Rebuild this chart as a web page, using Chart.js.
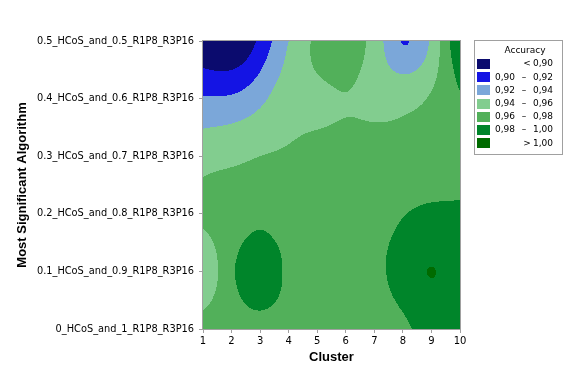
<!DOCTYPE html>
<html>
<head>
<meta charset="utf-8">
<script src="https://cdn.jsdelivr.net/npm/chart.js@4.4.1/dist/chart.umd.min.js"></script>
<style>
  body { margin: 0; background: #fff; }
  canvas { display: block; }
</style>
</head>
<body>
<canvas id="chart" width="576" height="384"></canvas>
<script>
// cluster numbers on the x axis
const clusters = [1, 2, 3, 4, 5, 6, 7, 8, 9, 10];

// algorithm mixes on the y axis, bottom to top
const algorithms = [
  '0_HCoS_and_1_R1P8_R3P16',
  '0.1_HCoS_and_0.9_R1P8_R3P16',
  '0.2_HCoS_and_0.8_R1P8_R3P16',
  '0.3_HCoS_and_0.7_R1P8_R3P16',
  '0.4_HCoS_and_0.6_R1P8_R3P16',
  '0.5_HCoS_and_0.5_R1P8_R3P16'
];

// accuracy per cluster, one array per algorithm row
const acc00 = [0.968, 0.972, 0.975, 0.972, 0.968, 0.968, 0.968, 0.975, 0.990, 0.990];
const acc01 = [0.942, 0.977, 0.992, 0.976, 0.968, 0.968, 0.974, 0.990, 1.0005, 0.992];
const acc02 = [0.965, 0.968, 0.976, 0.969, 0.968, 0.968, 0.970, 0.979, 0.984, 0.984];
const acc03 = [0.953, 0.956, 0.960, 0.962, 0.965, 0.966, 0.966, 0.966, 0.968, 0.970];
const acc04 = [0.922, 0.923, 0.935, 0.953, 0.955, 0.9595, 0.955, 0.955, 0.962, 0.978];
const acc05 = [0.885, 0.878, 0.905, 0.940, 0.964, 0.970, 0.952, 0.919, 0.944, 0.999];

// contour levels
const levelBreaks = [0.90, 0.92, 0.94, 0.96, 0.98, 1.00];
const levelColors = ['#0b0b6e', '#1414e4', '#7ba7d9', '#82cd8f', '#52b05a', '#00852a', '#006b00'];

const grid = [acc00, acc01, acc02, acc03, acc04, acc05];

const points = [];
grid.forEach((row, j) => row.forEach((v, i) => points.push({ x: clusters[i], y: j, v: v })));

// thin plate spline through the grid nodes (coordinates scaled to a unit square)
const xSpan = clusters[clusters.length - 1] - clusters[0];
const ySpan = grid.length - 1;
const nodes = points.map(p => [(p.x - clusters[0]) / xSpan, p.y / ySpan, p.v]);

function phi(r2) {
  return r2 > 0 ? 0.5 * r2 * Math.log(r2) : 0;
}

function solve(A, b) {
  const n = b.length;
  for (let c = 0; c < n; c++) {
    let p = c;
    for (let r = c + 1; r < n; r++) if (Math.abs(A[r][c]) > Math.abs(A[p][c])) p = r;
    [A[c], A[p]] = [A[p], A[c]];
    [b[c], b[p]] = [b[p], b[c]];
    for (let r = c + 1; r < n; r++) {
      const f = A[r][c] / A[c][c];
      for (let k = c; k < n; k++) A[r][k] -= f * A[c][k];
      b[r] -= f * b[c];
    }
  }
  const out = new Array(n).fill(0);
  for (let r = n - 1; r >= 0; r--) {
    let s = b[r];
    for (let k = r + 1; k < n; k++) s -= A[r][k] * out[k];
    out[r] = s / A[r][r];
  }
  return out;
}

const tps = (() => {
  const n = nodes.length, m = n + 3;
  const A = [], b = [];
  for (let i = 0; i < m; i++) { A.push(new Array(m).fill(0)); b.push(0); }
  for (let i = 0; i < n; i++) {
    for (let j = 0; j < n; j++) {
      const dx = nodes[i][0] - nodes[j][0], dy = nodes[i][1] - nodes[j][1];
      A[i][j] = phi(dx * dx + dy * dy);
    }
    A[i][n] = 1; A[i][n + 1] = nodes[i][0]; A[i][n + 2] = nodes[i][1];
    A[n][i] = 1; A[n + 1][i] = nodes[i][0]; A[n + 2][i] = nodes[i][1];
    b[i] = nodes[i][2];
  }
  return solve(A, b);
})();

function sample(u, v) {
  const n = nodes.length;
  let s = tps[n] + tps[n + 1] * u + tps[n + 2] * v;
  for (let i = 0; i < n; i++) {
    const dx = u - nodes[i][0], dy = v - nodes[i][1];
    s += tps[i] * phi(dx * dx + dy * dy);
  }
  return s;
}

function levelOf(v) {
  let k = 0;
  while (k < levelBreaks.length && v >= levelBreaks[k]) k++;
  return k;
}

function hexRgb(h) {
  return [parseInt(h.slice(1, 3), 16), parseInt(h.slice(3, 5), 16), parseInt(h.slice(5, 7), 16)];
}

const contourPlugin = {
  id: 'contour',
  beforeDatasetsDraw(chart) {
    const { ctx, chartArea: a, scales: { x, y } } = chart;
    const left = Math.round(a.left), top = Math.round(a.top);
    const w = Math.round(a.right) - left, h = Math.round(a.bottom) - top;
    const img = ctx.createImageData(w, h);
    const rgb = levelColors.map(hexRgb);
    for (let py = 0; py < h; py++) {
      const dy = y.getValueForPixel(top + py + 0.5) / ySpan;
      for (let px = 0; px < w; px++) {
        const dx = (x.getValueForPixel(left + px + 0.5) - clusters[0]) / xSpan;
        const c = rgb[levelOf(sample(dx, dy))];
        const o = (py * w + px) * 4;
        img.data[o] = c[0]; img.data[o + 1] = c[1]; img.data[o + 2] = c[2]; img.data[o + 3] = 255;
      }
    }
    ctx.putImageData(img, left, top);
  },
  afterDatasetsDraw(chart) {
    const { ctx, chartArea: a } = chart;
    ctx.save();
    ctx.strokeStyle = '#a0a0a0';
    ctx.lineWidth = 1;
    ctx.strokeRect(Math.round(a.left) - 0.5, Math.round(a.top) - 0.5,
      Math.round(a.right - a.left) + 1, Math.round(a.bottom - a.top) + 1);
    ctx.restore();
  }
};

const legendPlugin = {
  id: 'accLegend',
  afterDraw(chart) {
    const ctx = chart.ctx;
    ctx.save();
    ctx.strokeStyle = '#a0a0a0';
    ctx.lineWidth = 1;
    ctx.strokeRect(474.5, 40.5, 88, 114);
    ctx.fillStyle = '#000';
    ctx.font = '9px "DejaVu Sans"';
    ctx.textBaseline = 'middle';
    ctx.textAlign = 'center';
    ctx.fillText('Accuracy', 525, 51);
    const fmt = v => v.toFixed(2).replace('.', ',');
    levelColors.forEach((col, k) => {
      const yc = 64 + k * 13.2;
      ctx.fillStyle = col;
      ctx.fillRect(477, Math.round(yc - 5), 13, 10);
      ctx.fillStyle = '#000';
      if (k === 0 || k === levelColors.length - 1) {
        ctx.textAlign = 'center';
        ctx.fillText(k === 0 ? '<' : '>', 527, yc);
        ctx.textAlign = 'right';
        ctx.fillText(fmt(k === 0 ? levelBreaks[0] : levelBreaks[levelBreaks.length - 1]), 553, yc);
      } else {
        ctx.textAlign = 'left';
        ctx.fillText(fmt(levelBreaks[k - 1]), 495, yc);
        ctx.textAlign = 'center';
        ctx.fillText('\u2013', 524, yc);
        ctx.textAlign = 'right';
        ctx.fillText(fmt(levelBreaks[k]), 553, yc);
      }
    });
    ctx.restore();
  }
};

new Chart(document.getElementById('chart'), {
  type: 'scatter',
  data: {
    datasets: [{
      label: 'Accuracy',
      data: points,
      pointRadius: 0,
      pointHoverRadius: 0
    }]
  },
  options: {
    responsive: false,
    animation: false,
    devicePixelRatio: 1,
    layout: { padding: { top: 41, right: 116, left: 0, bottom: 0 } },
    plugins: {
      legend: { display: false },
      tooltip: { enabled: false }
    },
    scales: {
      x: {
        type: 'linear',
        min: 1,
        max: 10,
        afterFit: s => { s.height = 55; },
        border: { display: false },
        grid: { drawOnChartArea: false, drawTicks: true, tickLength: 4, color: '#a0a0a0' },
        ticks: {
          stepSize: 1,
          padding: 2,
          color: '#000',
          font: { family: 'DejaVu Sans', size: 10 },
          maxRotation: 0
        },
        title: {
          display: true,
          text: 'Cluster',
          color: '#000',
          font: { family: 'Liberation Sans', size: 13, weight: 'bold' },
          padding: { top: 0, bottom: 19 }
        }
      },
      y: {
        type: 'linear',
        min: 0,
        max: 5,
        afterFit: s => { s.width = 203; },
        border: { display: false },
        grid: { drawOnChartArea: false, drawTicks: true, tickLength: 4, color: '#a0a0a0' },
        ticks: {
          stepSize: 1,
          padding: 5,
          color: '#000',
          font: { family: 'DejaVu Sans', size: 9.8 },
          callback: v => algorithms[v]
        },
        title: {
          display: true,
          text: 'Most Significant Algorithm',
          color: '#000',
          font: { family: 'Liberation Sans', size: 13, weight: 'bold' },
          padding: { top: 15, bottom: 0 }
        }
      }
    }
  },
  plugins: [contourPlugin, legendPlugin]
});
</script>
</body>
</html>
